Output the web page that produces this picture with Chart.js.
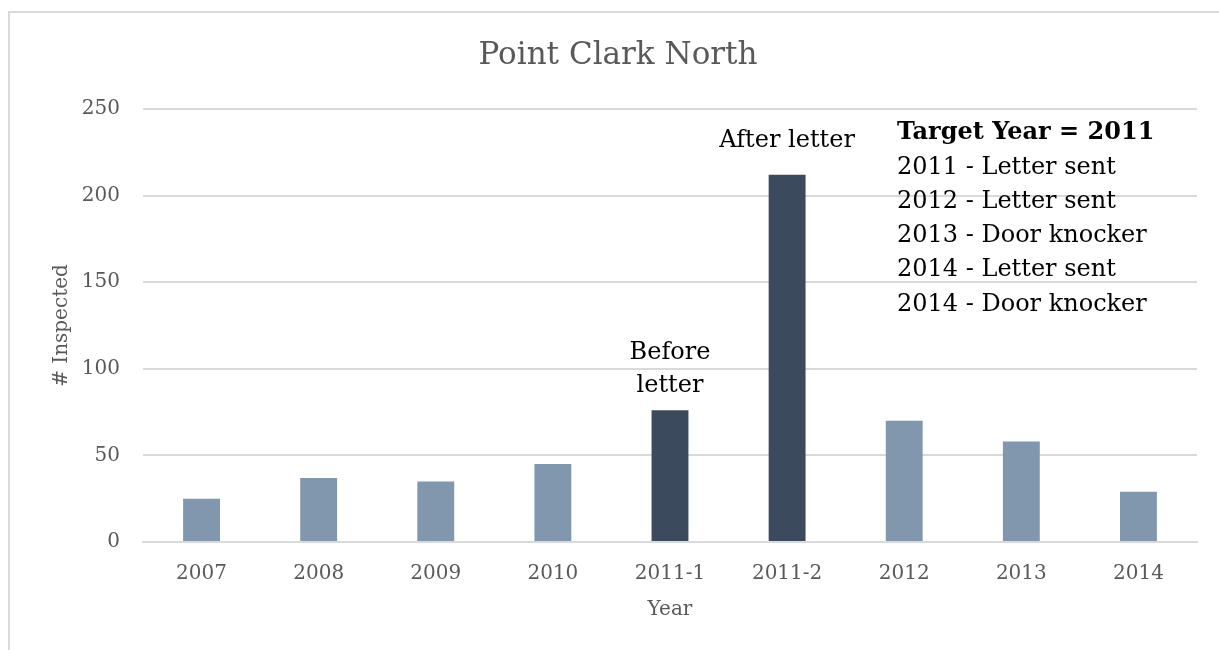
<!DOCTYPE html>
<html>
<head>
<meta charset="utf-8">
<script src="https://cdn.jsdelivr.net/npm/chart.js@4.4.1/dist/chart.umd.min.js"></script>
<style>
  html, body { margin: 0; padding: 0; background: #fff; }
  #wrap { width: 1219px; height: 650px; position: relative; }
</style>
</head>
<body>
<div id="wrap"><canvas id="c" width="1219" height="650"></canvas></div>
<script>
const categories = ["2007", "2008", "2009", "2010", "2011-1", "2011-2", "2012", "2013", "2014"];
const inspected = [25, 37, 35, 45, 76, 212, 70, 58, 29];
const highlighted = [false, false, false, false, true, true, false, false, false];
const barNotes = { "2011-1": ["Before", "letter"], "2011-2": ["After letter"] };
const chartTitle = "Point Clark North";
const noteTitle = "Target Year = 2011";
const noteLines = ["2011 - Letter sent", "2012 - Letter sent", "2013 - Door knocker", "2014 - Letter sent", "2014 - Door knocker"];
const yTicks = [0, 50, 100, 150, 200, 250];

const FONT = "'DejaVu Serif', serif";
const LIGHT = "#8097ae";
const DARK = "#3b4b5d";

const annotations = {
  id: 'annotations',
  beforeDraw(chart) {
    const ctx = chart.ctx;
    ctx.save();
    ctx.strokeStyle = '#d9d9d9';
    ctx.lineWidth = 2;
    ctx.beginPath();
    ctx.moveTo(9, 660);
    ctx.lineTo(9, 12);
    ctx.lineTo(1230, 12);
    ctx.stroke();
    ctx.fillStyle = '#595959';
    ctx.textAlign = 'center';
    ctx.textBaseline = 'middle';
    ctx.font = "31px " + FONT;
    ctx.fillText(chartTitle, 618, 56);
    ctx.restore();
  },
  afterDatasetsDraw(chart) {
    const ctx = chart.ctx;
    const meta = chart.getDatasetMeta(0);
    ctx.save();
    ctx.fillStyle = '#000';
    ctx.textAlign = 'center';
    ctx.textBaseline = 'middle';
    ctx.font = "24px " + FONT;
    categories.forEach((cat, i) => {
      const lines = barNotes[cat];
      if (!lines) return;
      const bar = meta.data[i];
      const n = lines.length;
      const gap = n > 1 ? 25 : 34;
      lines.forEach((t, k) => {
        const y = bar.y - gap - (n - 1 - k) * 33;
        ctx.fillText(t, bar.x, y);
      });
    });
    const area = chart.chartArea;
    const x0 = area.left + 754;
    const y0 = area.top + 24;
    ctx.textAlign = 'left';
    ctx.font = "bold 24px " + FONT;
    ctx.fillText(noteTitle, x0, y0);
    ctx.font = "24px " + FONT;
    noteLines.forEach((t, k) => ctx.fillText(t, x0, y0 + 34.3 * (k + 1)));
    ctx.restore();
  }
};

new Chart(document.getElementById('c'), {
  type: 'bar',
  data: {
    labels: categories,
    datasets: [{
      data: inspected,
      backgroundColor: highlighted.map(h => h ? DARK : LIGHT),
      barPercentage: 0.63,
      categoryPercentage: 0.5
    }]
  },
  options: {
    responsive: false,
    animation: false,
    devicePixelRatio: 1,
    layout: { padding: { left: 10, right: 22, top: 109, bottom: 28 } },
    plugins: {
      legend: { display: false },
      tooltip: { enabled: false },
      title: { display: false }
    },
    scales: {
      x: {
        grid: { display: false, drawTicks: false },
        border: { color: '#d9d9d9', width: 2 },
        ticks: { color: '#595959', font: { family: FONT, size: 20 }, padding: 20, maxRotation: 0 },
        title: { display: true, text: 'Year', color: '#595959', font: { family: FONT, size: 20 }, padding: { top: 8, bottom: 0 } },
        afterFit(scale) { scale.height = 80; }
      },
      y: {
        min: 0, max: 250,
        afterBuildTicks(scale) { scale.ticks = yTicks.map(v => ({ value: v })); },
        grid: { color: '#d9d9d9', lineWidth: 2, drawTicks: false },
        border: { display: false },
        ticks: { color: '#595959', font: { family: FONT, size: 20 }, padding: 23 },
        title: { display: true, text: '# Inspected', color: '#595959', font: { family: FONT, size: 20 }, padding: { top: 40, bottom: 0 } },
        afterFit(scale) { scale.width = 133; }
      }
    }
  },
  plugins: [annotations]
});
</script>
</body>
</html>
